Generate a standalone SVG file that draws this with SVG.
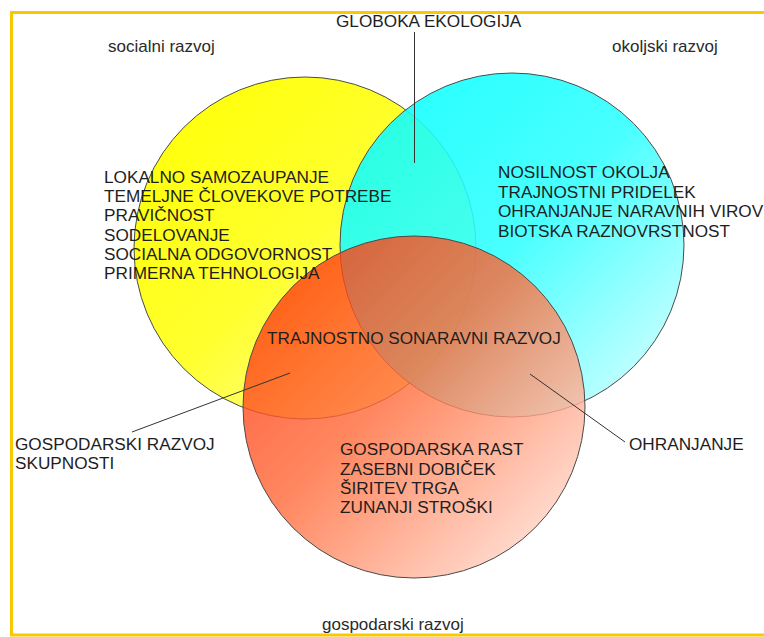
<svg xmlns="http://www.w3.org/2000/svg" width="764" height="637" viewBox="0 0 764 637">
<defs>
<linearGradient id="gY" x1="0" y1="0" x2="1" y2="1">
<stop offset="0" stop-color="#ffff00"/>
<stop offset="0.5" stop-color="#ffff30"/>
<stop offset="1" stop-color="#ffffc8"/>
</linearGradient>
<linearGradient id="gC" x1="0" y1="0" x2="1" y2="1">
<stop offset="0" stop-color="#00ffff"/>
<stop offset="0.5" stop-color="#30ffff"/>
<stop offset="1" stop-color="#e6ffff"/>
</linearGradient>
<linearGradient id="gO" x1="0" y1="0" x2="1" y2="1">
<stop offset="0" stop-color="#ff2800"/>
<stop offset="0.45" stop-color="#ff6a38"/>
<stop offset="1" stop-color="#fff2ee"/>
</linearGradient>
<style>
.c{stroke:#4a4a4a;stroke-width:1}
.t{font-family:"Liberation Sans",Arial,sans-serif;font-size:17.2px;fill:#1e1e1e}
.s{font-family:"Liberation Sans",Arial,sans-serif;font-size:17px;fill:#2a2a2a}
.ln{stroke:#333;stroke-width:1;fill:none}
.fr{stroke:#fac800;stroke-width:3;fill:none}
</style>
</defs>
<rect width="764" height="637" fill="#ffffff"/>
<path class="fr" d="M764 12.5H11.5V635H764"/>
<g id="socialni">
<circle class="c" cx="305" cy="248" r="171" fill="url(#gY)"/>
</g>
<g id="okoljski">
<circle class="c" cx="512" cy="245" r="172" fill="url(#gC)" fill-opacity="0.88"/>
</g>
<g id="gospodarski">
<circle class="c" cx="414" cy="407" r="171" fill="url(#gO)" fill-opacity="0.8"/>
</g>
<g id="connectors">
<line class="ln" x1="414.5" y1="32" x2="414.5" y2="163"/>
<line class="ln" x1="290" y1="373" x2="132" y2="432"/>
<line class="ln" x1="530" y1="374" x2="625" y2="442"/>
</g>
<g id="label-globoka"><text class="t" x="336" y="27">GLOBOKA EKOLOGIJA</text></g>
<g id="label-socialni"><text class="s" x="108" y="52">socialni razvoj</text></g>
<g id="label-okoljski"><text class="s" x="612" y="52">okoljski razvoj</text></g>
<g id="text-socialni">
<text class="t" x="104" y="183">LOKALNO SAMOZAUPANJE</text>
<text class="t" x="104" y="202">TEMELJNE ČLOVEKOVE POTREBE</text>
<text class="t" x="104" y="221">PRAVIČNOST</text>
<text class="t" x="104" y="240.5">SODELOVANJE</text>
<text class="t" x="104" y="260">SOCIALNA ODGOVORNOST</text>
<text class="t" x="104" y="279">PRIMERNA TEHNOLOGIJA</text>
</g>
<g id="text-okoljski">
<text class="t" x="498" y="178">NOSILNOST OKOLJA</text>
<text class="t" x="498" y="197.5">TRAJNOSTNI PRIDELEK</text>
<text class="t" x="498" y="217">OHRANJANJE NARAVNIH VIROV</text>
<text class="t" x="498" y="236.5">BIOTSKA RAZNOVRSTNOST</text>
</g>
<g id="label-trajnostno"><text class="t" x="267" y="344">TRAJNOSTNO SONARAVNI RAZVOJ</text></g>
<g id="text-gospodarski">
<text class="t" x="340" y="455">GOSPODARSKA RAST</text>
<text class="t" x="340" y="474.5">ZASEBNI DOBIČEK</text>
<text class="t" x="340" y="494">ŠIRITEV TRGA</text>
<text class="t" x="340" y="513">ZUNANJI STROŠKI</text>
</g>
<g id="label-skupnosti">
<text class="t" x="15" y="450">GOSPODARSKI RAZVOJ</text>
<text class="t" x="15" y="469">SKUPNOSTI</text>
</g>
<g id="label-ohranjanje"><text class="t" x="629" y="450">OHRANJANJE</text></g>
<g id="label-gospodarski"><text class="s" x="322" y="630">gospodarski razvoj</text></g>
</svg>
